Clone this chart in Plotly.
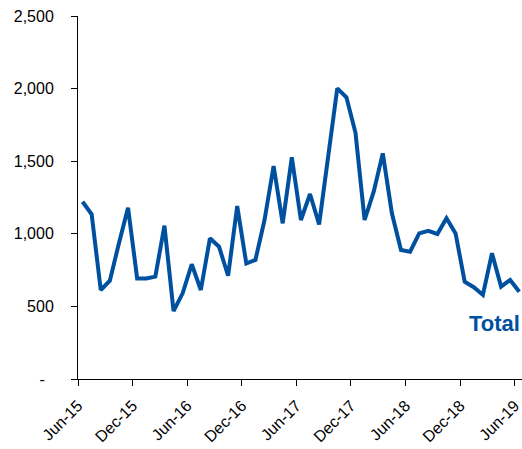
import plotly.graph_objects as go

months = ["Jun-15","Jul-15","Aug-15","Sep-15","Oct-15","Nov-15","Dec-15","Jan-16","Feb-16","Mar-16",
          "Apr-16","May-16","Jun-16","Jul-16","Aug-16","Sep-16","Oct-16","Nov-16","Dec-16","Jan-17",
          "Feb-17","Mar-17","Apr-17","May-17","Jun-17","Jul-17","Aug-17","Sep-17","Oct-17","Nov-17",
          "Dec-17","Jan-18","Feb-18","Mar-18","Apr-18","May-18","Jun-18","Jul-18","Aug-18","Sep-18",
          "Oct-18","Nov-18","Dec-18","Jan-19","Feb-19","Mar-19","Apr-19","May-19","Jun-19"]
total = [1221, 1134, 613, 677, 935, 1180, 693, 693, 705, 1056,
         468, 590, 790, 613, 969, 911, 711, 1191, 795, 820,
         1095, 1467, 1072, 1527, 1095, 1274, 1065, 1530, 2002, 1940,
         1696, 1095, 1290, 1554, 1141, 888, 877, 1003, 1021, 999,
         1107, 1003, 670, 632, 579, 866, 636, 682, 601]
tick_labels = ["Jun-15","Dec-15","Jun-16","Dec-16","Jun-17","Dec-17","Jun-18","Dec-18","Jun-19"]
y_ticks = [0, 500, 1000, 1500, 2000, 2500]
y_tick_text = ["-\u00a0\u00a0", "500", "1,000", "1,500", "2,000", "2,500"]
series_name = "Total"

xpos = [i + 0.5 for i in range(len(months))]
tick_pos = [months.index(t) for t in tick_labels]

color = "#0050A0"
fig = go.Figure()
fig.add_trace(go.Scatter(x=xpos, y=total, mode="lines", name=series_name,
                         line=dict(color=color, width=4), cliponaxis=False,
                         text=months, hovertemplate="%{text}: %{y:,}<extra></extra>"))

fig.add_annotation(x=45.8, y=385, xref="x", yref="y", text="<b>Total</b>",
                   showarrow=False, font=dict(size=22, color=color, family="Liberation Sans, Arial"),
                   xanchor="center", yanchor="middle")

fig.update_layout(
    width=522, height=449,
    margin=dict(l=78, r=0, t=16, b=70, autoexpand=False),
    paper_bgcolor="white", plot_bgcolor="white",
    showlegend=False,
    font=dict(family="Liberation Sans, Arial", size=16, color="#000000"),
)
fig.update_xaxes(range=[0, 48.8], tickmode="array", tickvals=tick_pos, ticktext=tick_labels,
                 tickangle=-45, ticks="outside", ticklen=6, tickcolor="black", tickwidth=1,
                 showline=True, linecolor="black", linewidth=1, showgrid=False, zeroline=False,
                 tickfont=dict(size=16), automargin=False, ticklabeloverflow="allow",
                 ticklabelstandoff=4, ticklabelshift=0)
fig.update_yaxes(range=[0, 2500], tickmode="array", tickvals=y_ticks, ticktext=y_tick_text,
                 ticks="outside", ticklen=6, tickcolor="black", tickwidth=1,
                 showline=True, linecolor="black", linewidth=1, showgrid=False, zeroline=False,
                 ticklabelstandoff=14, tickfont=dict(size=16), automargin=False,
                 ticklabeloverflow="allow")

fig.write_html("out.html", config={"displayModeBar": False},
               post_script="document.body.style.margin='0';document.body.style.overflow='hidden';")
